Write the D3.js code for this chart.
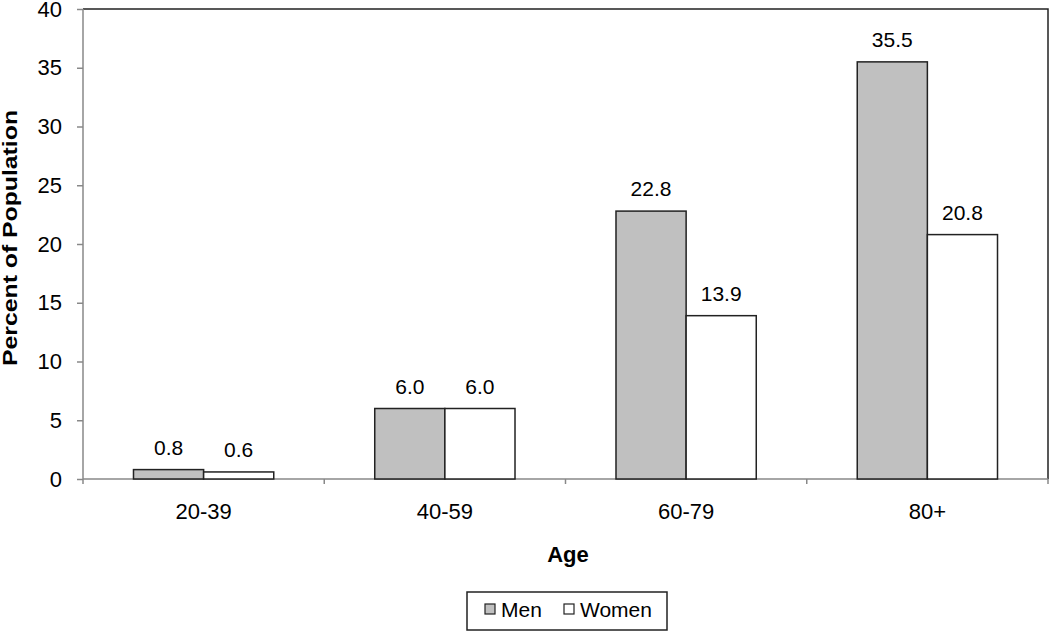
<!DOCTYPE html>
<html>
<head>
<meta charset="utf-8">
<script src="https://cdn.jsdelivr.net/npm/d3@7"></script>
<style>
  body { margin: 0; background: #fff; }
  text { font-family: "Liberation Sans", Arial, sans-serif; fill: #000; }
</style>
</head>
<body>
<div id="viz"></div>
<script>
var categories = ["20-39", "40-59", "60-79", "80+"];
var men = [0.8, 6.0, 22.8, 35.5];
var women = [0.6, 6.0, 13.9, 20.8];
var seriesNames = ["Men", "Women"];
var seriesFill = ["#c0c0c0", "#ffffff"];
var yTicks = [0, 5, 10, 15, 20, 25, 30, 35, 40];

var W = 1050, H = 631;
var pLeft = 83, pRight = 1048, pTop = 9, pBottom = 479;

var svg = d3.select("#viz").append("svg")
  .attr("width", W)
  .attr("height", H);

var x = d3.scaleBand().domain(categories).range([pLeft, pRight]).paddingInner(0).paddingOuter(0);
var xs = d3.scaleBand().domain(seriesNames).range([0, x.bandwidth()]).paddingInner(0).paddingOuter(0.72);
var y = d3.scaleLinear().domain([0, 40]).range([pBottom, pTop]);

// plot frame (top & right)
svg.append("path")
  .attr("d", "M" + pLeft + "," + pTop + "H" + pRight + "V" + pBottom)
  .attr("fill", "none")
  .attr("stroke", "#222")
  .attr("stroke-width", 1.5);

// y axis
var yAxis = svg.append("g")
  .attr("transform", "translate(" + pLeft + ",0)")
  .call(d3.axisLeft(y).tickValues(yTicks).tickSize(6).tickPadding(15));
yAxis.selectAll("line, path").attr("stroke", "#888").attr("stroke-width", 1.5);
yAxis.selectAll("text").style("font-size", "22px").attr("fill", "#000");
yAxis.select(".domain").attr("d", "M0," + pTop + "V" + pBottom);

// x axis
var xAxis = svg.append("g")
  .attr("transform", "translate(0," + pBottom + ")")
  .call(d3.axisBottom(x).tickSize(0).tickPadding(24));
xAxis.selectAll("path").attr("stroke", "#888").attr("stroke-width", 1.5);
xAxis.select(".domain").attr("d", "M" + pLeft + ",0H" + pRight);
xAxis.selectAll("text").style("font-size", "22px").attr("fill", "#000");
// category boundary ticks
svg.append("g").selectAll("line")
  .data(categories.concat(["end"]))
  .join("line")
  .attr("x1", function (d, i) { return pLeft + i * x.bandwidth(); })
  .attr("x2", function (d, i) { return pLeft + i * x.bandwidth(); })
  .attr("y1", pBottom)
  .attr("y2", pBottom + 5)
  .attr("stroke", "#888")
  .attr("stroke-width", 1.5);

var data = [];
categories.forEach(function (c, i) {
  data.push({ cat: c, s: "Men", v: men[i] });
  data.push({ cat: c, s: "Women", v: women[i] });
});

// bars
svg.append("g").selectAll("rect")
  .data(data)
  .join("rect")
  .attr("x", function (d) { return x(d.cat) + xs(d.s); })
  .attr("y", function (d) { return y(d.v); })
  .attr("width", xs.bandwidth())
  .attr("height", function (d) { return y(0) - y(d.v); })
  .attr("fill", function (d) { return seriesFill[seriesNames.indexOf(d.s)]; })
  .attr("stroke", "#222")
  .attr("stroke-width", 1.5);

// value labels
svg.append("g").selectAll("text")
  .data(data)
  .join("text")
  .attr("x", function (d) { return x(d.cat) + xs(d.s) + xs.bandwidth() / 2; })
  .attr("y", function (d) { return y(d.v) - 15; })
  .attr("text-anchor", "middle")
  .style("font-size", "21px")
  .text(function (d) { return d.v.toFixed(1); });

// axis titles
svg.append("text")
  .attr("transform", "translate(17,238) rotate(-90)")
  .attr("text-anchor", "middle")
  .attr("textLength", 256)
  .attr("lengthAdjust", "spacingAndGlyphs")
  .style("font-size", "21px")
  .style("font-weight", "bold")
  .text("Percent of Population");

svg.append("text")
  .attr("x", 568)
  .attr("y", 562)
  .attr("text-anchor", "middle")
  .style("font-size", "22px")
  .style("font-weight", "bold")
  .text("Age");

// legend
var lg = svg.append("g").attr("transform", "translate(467,592)");
lg.append("rect")
  .attr("width", 200).attr("height", 38)
  .attr("fill", "#fff").attr("stroke", "#222").attr("stroke-width", 1.5);
var lx = [18, 97];
seriesNames.forEach(function (s, i) {
  lg.append("rect")
    .attr("x", lx[i]).attr("y", 12)
    .attr("width", 10).attr("height", 10)
    .attr("fill", seriesFill[i]).attr("stroke", "#222").attr("stroke-width", 1.2);
  lg.append("text")
    .attr("x", lx[i] + 16).attr("y", 25)
    .style("font-size", "21px")
    .text(s);
});
</script>
</body>
</html>
